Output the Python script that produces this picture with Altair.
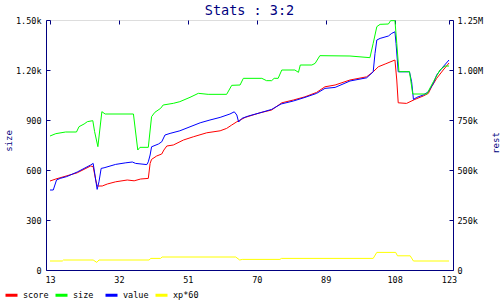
import altair as alt
import pandas as pd

# ---- data ----
x_ticks = [13, 32, 51, 70, 89, 108, 123]
left_ticks = [0, 300, 600, 900, 1200, 1500]
right_ticks = [0, 250000, 500000, 750000, 1000000, 1250000]

series_names = ["score", "size", "value", "xp*60"]
series_colors = ["#ff0000", "#00ff00", "#0000ff", "#ffff00"]

size_x = [13, 14.6, 17.3, 20.3, 21, 22.4, 23.3, 24.8, 25.3, 26.2, 27.3, 28.2, 36, 37.2, 37.8,
          40.1, 41.0, 41.9, 43.5, 44.2, 47, 48.8, 51.6, 53.9, 56.6, 61.7, 63.1, 65.4, 66.3,
          71.4, 72.7, 74.1, 74.8, 75.9, 76.9, 80.5, 81.5, 82, 85.2, 86.1, 87.4, 95.7, 101.2,
          102.1, 103.1, 104, 106.3, 106.9, 108.1, 108.6, 109.2, 112.1, 113, 116.9, 118.7,
          120.5, 121.9, 123]
size_y = [804, 818, 828, 828, 860, 876, 890, 896, 830, 740, 950, 936, 936, 720, 736,
          736, 920, 946, 970, 990, 1000, 1010, 1036, 1060, 1054, 1054, 1108, 1110, 1150,
          1150, 1136, 1136, 1150, 1150, 1200, 1200, 1186, 1230, 1230, 1240, 1286, 1284, 1274,
          1360, 1460, 1474, 1476, 1496, 1496, 1360, 1190, 1190, 1056, 1056, 1130,
          1200, 1224, 1224]

# score / value / xp*60 in thousands (right axis "rest")
score_x = [13, 14.6, 20.5, 24.2, 24.9, 25.6, 26.0, 27.4, 28.8, 31.1, 34.3, 36.2, 38, 40.1,
           40.6, 41.0, 42.4, 43.8, 44.4, 45.2, 47, 49.8, 52.5, 56.2, 59.9, 61.7, 63.1, 64.5,
           66.8, 70.9, 74.1, 76.9, 80.1, 83.3, 86.5, 88.8, 91.6, 95.7, 100.3, 102.1, 103.5,
           105.4, 108.1, 108.6, 109, 111.3, 113.6, 115.9, 117.3, 118.2, 119.6, 121.4, 123]
score_k = [445, 455, 486, 520, 517, 450, 420, 420, 430, 441, 450, 446, 455, 458,
           533, 553, 570, 580, 600, 620, 625, 650, 666, 686, 696, 708, 725, 741,
           763, 786, 800, 836, 850, 866, 888, 916, 925, 950, 966, 991, 1016,
           1030, 1050, 950, 836, 833, 853, 870, 883, 916, 958, 1000, 1035]

value_x = [13, 13.9, 14.8, 15.8, 17.6, 20.5, 24.2, 24.9, 25.4, 26.0, 26.5, 27.1, 27.9, 31.1,
           33.9, 35.7, 36.6, 39.7, 40.1, 40.6, 41.0, 42.9, 43.8, 44.7, 46.1, 48.8, 51.6, 54.4,
           57.1, 59.9, 62.6, 63.8, 64.5, 65.0, 65.9, 67.7, 70.9, 74.1, 76.7, 80.1, 83.3, 86.5,
           88.8, 91.6, 95.7, 100.3, 102.1, 102.6, 103.1, 104, 106.3, 107.2, 108.1, 108.4, 109,
           112.1, 112.7, 113.2, 114.1, 115.9, 117.3, 118.7, 119.6, 121, 123]
value_k = [400, 400, 450, 458, 467, 490, 525, 533, 475, 403, 441, 508, 511, 528,
           536, 540, 533, 527, 541, 575, 616, 630, 641, 675, 683, 696, 716, 736,
           750, 763, 780, 791, 775, 740, 758, 770, 786, 803, 830, 845, 863, 883,
           908, 913, 945, 961, 991, 1083, 1150, 1158, 1170, 1183, 1191, 1133, 991,
           991, 941, 853, 863, 875, 891, 933, 975, 1008, 1050]

xp_x = [13, 16.4, 16.7, 24.9, 25.9, 26.5, 40.3, 40.8, 43.5, 43.9, 64.2, 65.3, 66, 76.4,
        76.8, 102.1, 103.1, 108.3, 108.8, 112.3, 113.2, 123]
xp_k = [45, 45, 50, 50, 38, 50, 50, 58, 58, 65, 65, 50, 53, 53,
        58, 58, 88, 88, 71, 71, 45, 45]

FONT = "DejaVu Sans Mono"
NAVY = "#000080"

size_df = pd.DataFrame({"x": size_x, "y": size_y, "series": "size"})
rest_df = pd.concat([
    pd.DataFrame({"x": score_x, "y": [v * 1000 for v in score_k], "series": "score"}),
    pd.DataFrame({"x": value_x, "y": [v * 1000 for v in value_k], "series": "value"}),
    pd.DataFrame({"x": xp_x, "y": [v * 1000 for v in xp_k], "series": "xp*60"}),
], ignore_index=True)

x_enc = alt.X(
    "x:Q", title=None,
    scale=alt.Scale(domain=[11.897, 124.103], nice=False, zero=False),
    axis=alt.Axis(values=x_ticks, grid=True, gridDash=[4, 2000], gridColor=NAVY,
                  gridOpacity=1, gridWidth=1, ticks=False, domain=True, domainColor=NAVY,
                  domainWidth=1, labelPadding=5, labelFlush=False, labelOverlap=False,
                  labelFont=FONT, labelFontSize=8.5, labelColor="black"),
)

color_enc = alt.Color(
    "series:N", title=None,
    scale=alt.Scale(domain=series_names, range=series_colors),
    legend=alt.Legend(orient="none", legendX=-42, legendY=267.5, direction="horizontal",
                      symbolType="stroke", symbolSize=144, symbolStrokeWidth=3,
                      labelFont=FONT, labelFontSize=8.5, labelColor="black",
                      labelOffset=4, columnPadding=0, gridAlign="all", padding=0),
)

rest = alt.Chart(rest_df).mark_line(strokeWidth=1).encode(
    x=x_enc,
    y=alt.Y("y:Q", title="rest",
            scale=alt.Scale(domain=[0, 1250000], nice=False),
            axis=alt.Axis(orient="right", values=right_ticks, grid=True, gridDash=[4, 2000],
                          gridColor=NAVY, gridOpacity=1, gridWidth=1, ticks=False,
                          domain=True, domainColor=NAVY, domainWidth=1,
                          labelPadding=4, labelOverlap=False,
                          labelFont=FONT, labelFontSize=8.5, labelColor="black",
                          labelExpr="datum.value >= 1000000 ? format(datum.value / 1000000, '.2f') + 'M' : (datum.value > 0 ? format(datum.value / 1000, 'd') + 'k' : '0')",
                          titleAngle=270, titleX=42, titleY=122.5, titleAlign="center",
                          titleBaseline="middle", titleColor=NAVY, titleFont=FONT,
                          titleFontSize=9, titleFontWeight="normal")),
    color=color_enc,
)

size = alt.Chart(size_df).mark_line(strokeWidth=1).encode(
    x=x_enc,
    y=alt.Y("y:Q", title="size",
            scale=alt.Scale(domain=[0, 1500], nice=False),
            axis=alt.Axis(orient="left", values=left_ticks, grid=True, gridDash=[4, 2000],
                          gridColor=NAVY, gridOpacity=1, gridWidth=1, ticks=False,
                          domain=True, domainColor=NAVY, domainWidth=1,
                          labelPadding=5, labelOverlap=False,
                          labelFont=FONT, labelFontSize=8.5, labelColor="black",
                          labelExpr="datum.value >= 1000 ? format(datum.value / 1000, '.2f') + 'k' : format(datum.value, 'd')",
                          titleAngle=270, titleX=-38, titleY=120.5, titleAlign="center",
                          titleBaseline="middle", titleColor=NAVY, titleFont=FONT,
                          titleFontSize=9, titleFontWeight="normal")),
    color=color_enc,
)

chart = alt.layer(rest, size).resolve_scale(y="independent").properties(
    width=407, height=250,
    autosize=alt.AutoSizeParams(type="none"),
    padding={"left": 46, "top": 20, "right": 47, "bottom": 30},
    title=alt.Title("Stats : 3:2", font=FONT, fontSize=13.5, fontWeight="normal",
                    color=NAVY, anchor="middle", frame="group", offset=0, dy=1),
).configure_view(stroke="transparent").configure(background="white")

chart.save("out.html", embed_options={"renderer": "svg", "actions": False})
